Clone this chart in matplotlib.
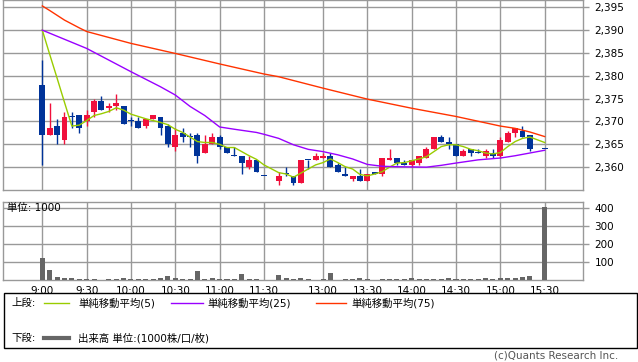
import matplotlib
matplotlib.use('Agg')
import matplotlib.pyplot as plt
from matplotlib.patches import Rectangle
from matplotlib.lines import Line2D

plt.rcParams['font.family'] = ['DejaVu Sans', 'Noto Sans CJK JP']
plt.rcParams['font.size'] = 7.5

# 5-minute candles (15:25 bar has no trade)
times = ['9:00', '9:05', '9:10', '9:15', '9:20', '9:25', '9:30', '9:35', '9:40', '9:45',
         '9:50', '9:55', '10:00', '10:05', '10:10', '10:15', '10:20', '10:25', '10:30', '10:35',
         '10:40', '10:45', '10:50', '10:55', '11:00', '11:05', '11:10', '11:15', '11:20', '11:25',
         '11:30', '12:30', '12:35', '12:40', '12:45', '12:50', '12:55', '13:00', '13:05', '13:10',
         '13:15', '13:20', '13:25', '13:30', '13:35', '13:40', '13:45', '13:50', '13:55', '14:00',
         '14:05', '14:10', '14:15', '14:20', '14:25', '14:30', '14:35', '14:40', '14:45', '14:50',
         '14:55', '15:00', '15:05', '15:10', '15:15', '15:20', '15:30']
opens = [2378, 2367, 2369, 2366, 2371, 2371.5, 2370, 2372, 2374.5, 2373,
         2373.5, 2373.5, 2370, 2370, 2369, 2370.5, 2371, 2369, 2364.5, 2367.5,
         2366.5, 2367, 2363, 2365, 2366.5, 2364.5, 2362.5, 2362.5, 2360, 2361.5,
         2358, 2357, 2358.5, 2358, 2356.5, 2361.5, 2361.5, 2362, 2362.5, 2360.5,
         2358.5, 2357.5, 2358, 2357, 2359, 2358.5, 2361.5, 2362, 2361, 2360.5,
         2361, 2362, 2364, 2366.5, 2365.5, 2365, 2362.5, 2364, 2363, 2362.5,
         2363, 2362.5, 2365.5, 2367.5, 2368, 2367, 2364]
highs = [2383.5, 2374, 2370.5, 2372, 2372, 2371.5, 2372.5, 2375, 2375.5, 2374,
         2376, 2373.5, 2371, 2371, 2370.5, 2371.5, 2371, 2369.5, 2368.5, 2368.5,
         2367.5, 2367.5, 2367, 2367.5, 2367, 2364.5, 2364.5, 2362.5, 2362.5, 2361.5,
         2358, 2359, 2360, 2358, 2361.5, 2361.5, 2363, 2363, 2363, 2361,
         2360, 2358, 2359.5, 2358.5, 2359, 2362, 2364, 2362, 2361.5, 2361.5,
         2362.5, 2364.5, 2366.5, 2367, 2366.5, 2365, 2364, 2364, 2364, 2364,
         2364, 2366.5, 2368, 2368.5, 2369, 2367, 2364]
lows = [2360.5, 2367, 2365, 2365, 2368.5, 2367.5, 2369, 2371, 2372.5, 2372,
        2372.5, 2369.5, 2369, 2368.5, 2368.5, 2370.5, 2367, 2364.5, 2363.5, 2365.5,
        2364.5, 2361, 2363, 2365, 2364, 2363, 2362.5, 2358.5, 2359.5, 2359,
        2358, 2356, 2358, 2356, 2356.5, 2359.5, 2361.5, 2362, 2360, 2359,
        2358, 2357, 2357, 2357, 2358.5, 2358, 2361.5, 2360.5, 2360.5, 2360,
        2360.5, 2362, 2364, 2365.5, 2364, 2362.5, 2362.5, 2362.5, 2363, 2362,
        2362, 2362, 2365.5, 2366.5, 2366.5, 2363.5, 2364]
closes = [2367, 2368.5, 2367, 2371, 2371, 2368.5, 2371.5, 2374.5, 2372.5, 2373.5,
          2374, 2369.5, 2370, 2368.5, 2370.5, 2371.5, 2368.5, 2365, 2367, 2366.5,
          2366.5, 2362.5, 2365, 2366.5, 2364.5, 2363, 2362.5, 2361, 2361.5, 2359,
          2358, 2358, 2358.5, 2356.5, 2361.5, 2361.5, 2362.5, 2362.5, 2360, 2359,
          2358, 2358, 2357, 2358.5, 2358.5, 2362, 2362, 2361, 2360.5, 2361.5,
          2362.5, 2364, 2366.5, 2365.5, 2365, 2362.5, 2363.5, 2363, 2363, 2363.5,
          2362.5, 2366, 2367.5, 2368.5, 2366.5, 2364, 2364]

# simple moving averages as drawn
ma5 = [2390.0, 2384.7, 2379.5, 2374.2, 2369.0, 2369.2, 2370.2, 2371.3, 2371.7, 2372.2,
       2373.0, 2372.5, 2371.6, 2371.1, 2370.6, 2370.2, 2369.8, 2369.3, 2368.3, 2367.6,
       2366.6, 2365.6, 2365.4, 2365.4, 2365.0, 2364.3, 2364.3, 2363.4, 2362.5, 2361.7,
       2360.5, 2358.8, 2358.5, 2357.8, 2358.7, 2359.6, 2360.5, 2361.0, 2361.8, 2361.0,
       2360.1, 2359.6, 2358.4, 2358.1, 2358.5, 2359.0, 2360.0, 2360.9, 2361.0, 2361.4,
       2361.8, 2362.3, 2363.4, 2364.5, 2364.9, 2364.9, 2364.5, 2363.9, 2363.6, 2363.1,
       2362.9, 2363.2, 2364.5, 2365.6, 2366.3, 2366.6, 2365.4]
ma25_times = ['9:00', '9:30', '10:00', '10:20', '10:30', '10:40', '10:50', '11:00', '11:10',
              '11:25', '11:30', '12:30', '12:40', '12:50', '13:00', '13:10', '13:20', '13:30',
              '13:40', '13:50', '14:10', '14:20', '14:30', '14:45', '15:00', '15:10', '15:20', '15:30']
ma25 = [2390.0, 2386.0, 2380.9, 2377.6, 2375.8, 2373.3, 2371.3, 2368.8, 2368.3,
        2367.6, 2367.2, 2366.3, 2364.9, 2363.9, 2363.4, 2362.7, 2361.8, 2360.6,
        2360.2, 2360.1, 2360.0, 2360.4, 2360.9, 2361.6, 2362.0, 2362.5, 2363.1, 2363.7]
ma75_times = ['9:00', '9:05', '9:15', '9:25', '9:30', '10:00', '10:30', '11:00', '11:30',
              '12:30', '13:00', '13:30', '14:00', '14:30', '15:00', '15:10', '15:20', '15:30']
ma75 = [2395.3, 2394.3, 2392.2, 2390.5, 2389.7, 2387.1, 2384.9, 2382.6, 2380.4,
        2379.8, 2377.3, 2374.9, 2372.9, 2371.1, 2369.0, 2368.5, 2367.7, 2366.7]

# volume (1000 shares)
vol_times = ['9:00', '9:05', '9:10', '9:15', '9:20', '9:25', '9:30', '9:35', '9:40', '9:45',
             '9:50', '9:55', '10:00', '10:05', '10:10', '10:15', '10:20', '10:25', '10:30', '10:35',
             '10:40', '10:45', '10:50', '10:55', '11:00', '11:05', '11:10', '11:15', '11:20', '11:25',
             '11:30', '12:30', '12:35', '12:40', '12:45', '12:50', '12:55', '13:00', '13:05', '13:10',
             '13:15', '13:20', '13:25', '13:30', '13:35', '13:40', '13:45', '13:50', '13:55', '14:00',
             '14:05', '14:10', '14:15', '14:20', '14:25', '14:30', '14:35', '14:40', '14:45', '14:50',
             '14:55', '15:00', '15:05', '15:10', '15:15', '15:20', '15:30']
volume = [125, 56, 17, 11, 11, 6, 6, 6, 2, 6,
          6, 11, 6, 6, 6, 6, 11, 22, 11, 3,
          6, 52, 8, 12, 6, 6, 6, 34, 6, 6,
          2, 28, 11, 6, 11, 6, 2, 6, 39, 2,
          6, 6, 11, 6, 2, 6, 6, 6, 6, 11,
          6, 6, 6, 6, 11, 6, 6, 6, 6, 11,
          6, 11, 11, 11, 17, 22, 408]

tick_times = ['9:00', '9:30', '10:00', '10:30', '11:00', '11:30',
              '13:00', '13:30', '14:00', '14:30', '15:00', '15:30']
price_ticks = [2360, 2365, 2370, 2375, 2380, 2385, 2390, 2395]
vol_ticks = [100, 200, 300, 400]


def slot(t):
    h, m = t.split(':')
    k = ((int(h) * 60 + int(m)) - 540) // 5
    if k > 30:
        k -= 10  # lunch break squeezed
    return k


RED = '#f0103c'
BLUE = '#003399'
GRID = '#999999'

W, H = 638, 362
fig = plt.figure(figsize=(W / 100, H / 100), dpi=100)


def frac(x0, y0, x1, y1):
    return [x0 / W, 1 - y1 / H, (x1 - x0) / W, (y1 - y0) / H]


ax1 = fig.add_axes(frac(3.3, 0, 582.7, 190))
ax2 = fig.add_axes(frac(3.3, 202, 582.7, 280))

xlim = (-5.28, 73.15)
for ax in (ax1, ax2):
    ax.set_xlim(*xlim)
    ax.set_xticks([slot(t) for t in tick_times])
    ax.grid(True, color=GRID, lw=1)
    ax.set_axisbelow(True)
    for s in ax.spines.values():
        s.set_color(GRID)
        s.set_linewidth(1)
    ax.yaxis.tick_right()
    ax.tick_params(axis='y', length=4.5, width=1, color=GRID, pad=4, labelsize=7.5)
    ax.tick_params(axis='x', length=0)

ax1.set_xticklabels([])
ax2.set_xticklabels(tick_times, fontsize=7.5)
ax2.tick_params(axis='x', pad=4)

# price panel
ax1.set_ylim(2355.0, 2396.6)
ax1.set_yticks(price_ticks)
ax1.set_yticklabels(['{:,}'.format(p) for p in price_ticks])

xs = [slot(t) for t in times]
for x, o, h, l, c in zip(xs, opens, highs, lows, closes):
    col = RED if c > o else BLUE
    ax1.vlines(x, l, h, color=col, lw=1, zorder=3)
    ax1.bar(x, max(abs(c - o), 0.25), bottom=min(o, c), width=0.8, color=col, lw=0, zorder=3)

ax1.plot(xs, ma5, color='#99cc00', lw=1, zorder=4)
ax1.plot([slot(t) for t in ma25_times], ma25, color='#9900ff', lw=1, zorder=4)
ax1.plot([slot(t) for t in ma75_times], ma75, color='#ff3300', lw=1, zorder=4)

# volume panel
ax2.set_ylim(0, 435)
ax2.set_yticks(vol_ticks)
ax2.bar([slot(t) for t in vol_times], volume, width=0.68, color='#666666', lw=0, zorder=3)
ax2.text(0.006, 400, '単位: 1000', transform=ax2.get_yaxis_transform(),
         ha='left', va='center', fontsize=7.5, zorder=5)

# legend box
fig.add_artist(Rectangle((3.5 / W, 1 - 348 / H), 633 / W, 55 / H, transform=fig.transFigure,
                         fill=False, ec='black', lw=1))


def fig_line(x0, x1, y, color, lw):
    fig.add_artist(Line2D([x0 / W, x1 / W], [1 - y / H, 1 - y / H], transform=fig.transFigure,
                          color=color, lw=lw))


def fig_text(x, y, s, **kw):
    fig.text(x / W, 1 - y / H, s, va='center', **kw)


fig_text(11, 303, '上段:')
fig_line(43.6, 69.3, 303, '#99cc00', 1)
fig_text(78.3, 303, '単純移動平均(5)')
fig_line(171, 202.6, 303, '#9900ff', 1)
fig_text(207, 303, '単純移動平均(25)')
fig_line(316, 345.7, 303, '#ff3300', 1)
fig_text(351.4, 303, '単純移動平均(75)')
fig_text(11, 338, '下段:')
fig_line(43.6, 69.3, 338, '#666666', 3)
fig_text(78.3, 338, '出来高 単位:(1000株/口/枚)')
fig_text(618, 356, '(c)Quants Research Inc.', ha='right', color='#555555')

fig.savefig('out.png', dpi=100)
